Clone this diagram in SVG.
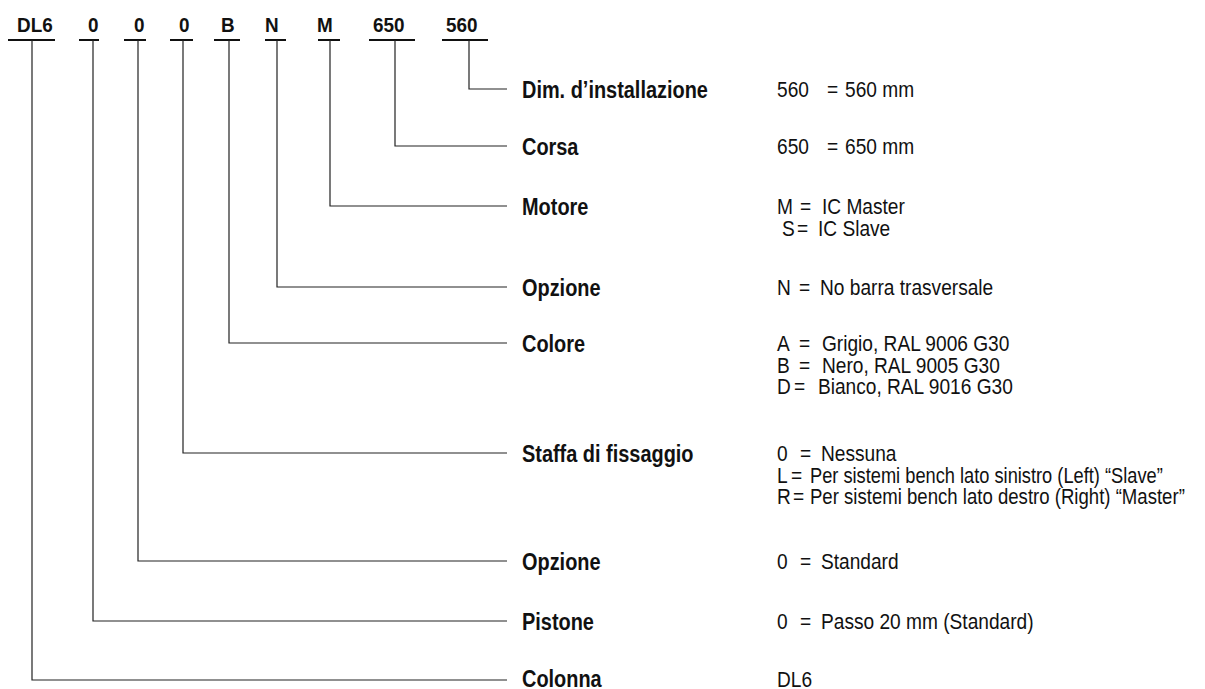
<svg xmlns="http://www.w3.org/2000/svg" width="1205" height="689" viewBox="0 0 1205 689">
<style>
.hd{font-family:"Liberation Sans",Arial,sans-serif;font-weight:bold;font-size:21px;fill:#111}
.lb{font-family:"Liberation Sans",Arial,sans-serif;font-weight:bold;font-size:24px;fill:#111}
.vl{font-family:"Liberation Sans",Arial,sans-serif;font-size:22.5px;fill:#111}
.ul{stroke:#111;stroke-width:2;fill:none}
.cn{stroke:#222;stroke-width:1.2;fill:none}
</style>
<rect width="1205" height="689" fill="#fff"/>
<g id="header">
<text class="hd" transform="translate(17,32) scale(0.9,1)">DL6</text>
<text class="hd" transform="translate(88,32) scale(0.9,1)">0</text>
<text class="hd" transform="translate(134,32) scale(0.9,1)">0</text>
<text class="hd" transform="translate(179,32) scale(0.9,1)">0</text>
<text class="hd" transform="translate(221,32) scale(0.9,1)">B</text>
<text class="hd" transform="translate(265,32) scale(0.9,1)">N</text>
<text class="hd" transform="translate(317,32) scale(0.9,1)">M</text>
<text class="hd" transform="translate(373,32) scale(0.9,1)">650</text>
<text class="hd" transform="translate(446,32) scale(0.9,1)">560</text>
<path class="ul" d="M8 40H55M79 40H99M124 40H146M170 40H193M214 40H240M265 40H286M318 40H340M369 40H415M442 40H488"/>
</g>
<g id="connectors">
<path class="cn" d="M469 40V89H507"/>
<path class="cn" d="M395 40V146H507"/>
<path class="cn" d="M330 40V206H507"/>
<path class="cn" d="M277 40V287H507"/>
<path class="cn" d="M229 40V343H507"/>
<path class="cn" d="M183 40V453H507"/>
<path class="cn" d="M138 40V561H507"/>
<path class="cn" d="M93 40V621H507"/>
<path class="cn" d="M32 40V680H507"/>
</g>
<g id="dim">
<text class="lb" transform="translate(522,97.5) scale(0.83,1)">Dim. d’installazione</text>
<text class="vl" transform="translate(777,97) scale(0.85,1)"><tspan x="0">560</tspan><tspan x="58.8">=</tspan><tspan x="80">560 mm</tspan></text>
</g>
<g id="corsa">
<text class="lb" transform="translate(522,154.5) scale(0.83,1)">Corsa</text>
<text class="vl" transform="translate(777,154) scale(0.85,1)"><tspan x="0">650</tspan><tspan x="58.8">=</tspan><tspan x="80">650 mm</tspan></text>
</g>
<g id="motore">
<text class="lb" transform="translate(522,214.5) scale(0.83,1)">Motore</text>
<text class="vl" transform="translate(777,214) scale(0.85,1)"><tspan x="0">M</tspan><tspan x="27.1">=</tspan><tspan x="52.9">IC Master</tspan></text>
<text class="vl" transform="translate(777,235.5) scale(0.85,1)"><tspan x="5.9">S</tspan><tspan x="23.5">=</tspan><tspan x="48.2">IC Slave</tspan></text>
</g>
<g id="opzione-n">
<text class="lb" transform="translate(522,295.5) scale(0.83,1)">Opzione</text>
<text class="vl" transform="translate(777,295) scale(0.85,1)"><tspan x="0">N</tspan><tspan x="25.9">=</tspan><tspan x="50.6">No barra trasversale</tspan></text>
</g>
<g id="colore">
<text class="lb" transform="translate(522,351.5) scale(0.83,1)">Colore</text>
<text class="vl" transform="translate(777,351) scale(0.85,1)"><tspan x="0">A</tspan><tspan x="25.9">=</tspan><tspan x="52.9">Grigio, RAL 9006 G30</tspan></text>
<text class="vl" transform="translate(777,372.5) scale(0.85,1)"><tspan x="0">B</tspan><tspan x="25.9">=</tspan><tspan x="52.9">Nero, RAL 9005 G30</tspan></text>
<text class="vl" transform="translate(777,394) scale(0.85,1)"><tspan x="0">D</tspan><tspan x="20">=</tspan><tspan x="48.2">Bianco, RAL 9016 G30</tspan></text>
</g>
<g id="staffa">
<text class="lb" transform="translate(522,461.5) scale(0.83,1)">Staffa di fissaggio</text>
<text class="vl" transform="translate(777,461) scale(0.85,1)"><tspan x="0">0</tspan><tspan x="27.1">=</tspan><tspan x="51.8">Nessuna</tspan></text>
<text class="vl" transform="translate(777,482.5) scale(0.85,1)"><tspan x="0">L</tspan><tspan x="16.5">=</tspan><tspan x="38.8" textLength="415" lengthAdjust="spacingAndGlyphs">Per sistemi bench lato sinistro (Left) “Slave”</tspan></text>
<text class="vl" transform="translate(777,504) scale(0.85,1)"><tspan x="0">R</tspan><tspan x="18.8">=</tspan><tspan x="38.8" textLength="441" lengthAdjust="spacingAndGlyphs">Per sistemi bench lato destro (Right) “Master”</tspan></text>
</g>
<g id="opzione-0">
<text class="lb" transform="translate(522,569.5) scale(0.83,1)">Opzione</text>
<text class="vl" transform="translate(777,569) scale(0.85,1)"><tspan x="0">0</tspan><tspan x="27.1">=</tspan><tspan x="51.8">Standard</tspan></text>
</g>
<g id="pistone">
<text class="lb" transform="translate(522,629.5) scale(0.83,1)">Pistone</text>
<text class="vl" transform="translate(777,629) scale(0.85,1)"><tspan x="0">0</tspan><tspan x="27.1">=</tspan><tspan x="51.8">Passo 20 mm (Standard)</tspan></text>
</g>
<g id="colonna">
<text class="lb" transform="translate(522,687) scale(0.83,1)">Colonna</text>
<text class="vl" transform="translate(777,687) scale(0.85,1)">DL6</text>
</g>
</svg>
